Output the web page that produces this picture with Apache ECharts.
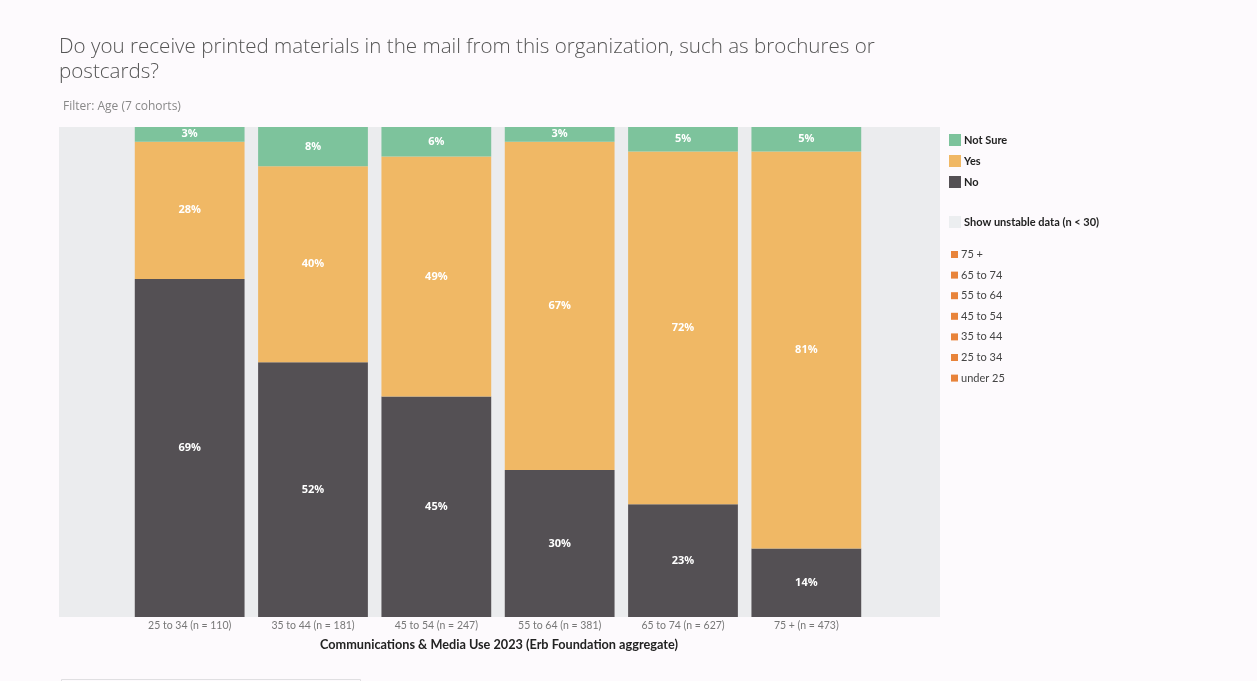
<!DOCTYPE html>
<html>
<head>
<meta charset="utf-8">
<script src="https://cdn.jsdelivr.net/npm/echarts@6/dist/echarts.min.js"></script>
<style>
  html, body { margin: 0; padding: 0; background: #fdfafd; }
  #chart { width: 1257px; height: 681px; }
</style>
</head>
<body>
<div id="chart"></div>
<script>
// age cohorts shown on the axis
const cohorts = ['25 to 34 (n = 110)', '35 to 44 (n = 181)', '45 to 54 (n = 247)', '55 to 64 (n = 381)', '65 to 74 (n = 627)', '75 + (n = 473)'];
// percentages per answer
const noVals = [69, 52, 45, 30, 23, 14];
const yesVals = [28, 40, 49, 67, 72, 81];
const notSureVals = [3, 8, 6, 3, 5, 5];
// filter legend entries
const ageFilters = ['75 +', '65 to 74', '55 to 64', '45 to 54', '35 to 44', '25 to 34', 'under 25'];

const chart = echarts.init(document.getElementById('chart'));

const segLabel = {
  show: true,
  position: 'inside',
  color: '#fff',
  fontWeight: 'bold',
  fontSize: 11,
  fontFamily: 'Open Sans',
  formatter: p => p.value + '%'
};

const barSeries = [
  { name: 'No', data: noVals, color: '#545054' },
  { name: 'Yes', data: yesVals, color: '#f0b865' },
  { name: 'Not Sure', data: notSureVals, color: '#7dc39c' }
].map(s => ({
  name: s.name,
  type: 'bar',
  stack: 'total',
  barCategoryGap: '11%',
  data: s.data,
  itemStyle: { color: s.color },
  label: segLabel,
  emphasis: { disabled: true }
}));

const filterSeries = ageFilters.map(a => ({
  name: a, type: 'line', data: [], color: '#e8833a'
}));
filterSeries.push({ name: 'Show unstable data (n < 30)', type: 'line', data: [], color: '#eceef0' });

chart.setOption({
  backgroundColor: '#fdfafd',
  animation: false,
  title: [
    {
      text: 'Do you receive printed materials in the mail from this organization, such as brochures or\npostcards?',
      left: 54,
      top: 30,
      textStyle: { fontFamily: 'Open Sans', fontWeight: 300, fontSize: 20.6, color: '#555', lineHeight: 25 }
    },
    {
      text: 'Filter: Age (7 cohorts)',
      left: 58,
      top: 96,
      textStyle: { fontFamily: 'Open Sans', fontWeight: 'normal', fontSize: 12, color: '#888' }
    }
  ],
  graphic: [
    { type: 'rect', left: 59, top: 127, z: -10, shape: { width: 881, height: 490 }, style: { fill: '#ebecee' } },
    { type: 'rect', left: 59, top: 677, z: -10, shape: { width: 299, height: 10 }, style: { fill: 'none', stroke: '#e0dfe2' } }
  ],
  legend: [
    {
      data: ['Not Sure', 'Yes', 'No'],
      orient: 'vertical',
      left: 944,
      top: 129,
      icon: 'rect',
      itemWidth: 12,
      itemHeight: 12,
      itemGap: 9,
      selectedMode: false,
      textStyle: { fontFamily: 'Lato', fontWeight: 'bold', fontSize: 11, color: '#222', padding: [0, 0, 0, -2] }
    },
    {
      data: ['Show unstable data (n < 30)'],
      orient: 'vertical',
      left: 944,
      top: 211,
      icon: 'rect',
      itemWidth: 12,
      itemHeight: 12,
      selectedMode: false,
      textStyle: { fontFamily: 'Lato', fontWeight: 'bold', fontSize: 11, color: '#222', padding: [0, 0, 0, -2] }
    },
    {
      data: ageFilters,
      orient: 'vertical',
      left: 946,
      top: 244,
      icon: 'rect',
      itemWidth: 7,
      itemHeight: 7,
      itemGap: 9.6,
      selectedMode: false,
      textStyle: { fontFamily: 'Lato', fontSize: 11, color: '#444', padding: [0, 0, 0, -2] }
    }
  ],
  grid: { left: 128, top: 127, width: 740, height: 490 },
  xAxis: {
    type: 'category',
    data: cohorts,
    axisLine: { show: false },
    axisTick: { show: false },
    axisLabel: { fontFamily: 'Lato', fontSize: 10.5, color: '#777', margin: 3 },
    name: 'Communications & Media Use 2023 (Erb Foundation aggregate)',
    nameLocation: 'middle',
    nameGap: 21,
    nameTextStyle: { fontFamily: 'Lato', fontWeight: 'bold', fontSize: 12.7, color: '#222', padding: [0, 0, 0, 2] }
  },
  yAxis: {
    type: 'value',
    min: 0,
    max: 100,
    show: false
  },
  series: barSeries.concat(filterSeries)
});
</script>
</body>
</html>
